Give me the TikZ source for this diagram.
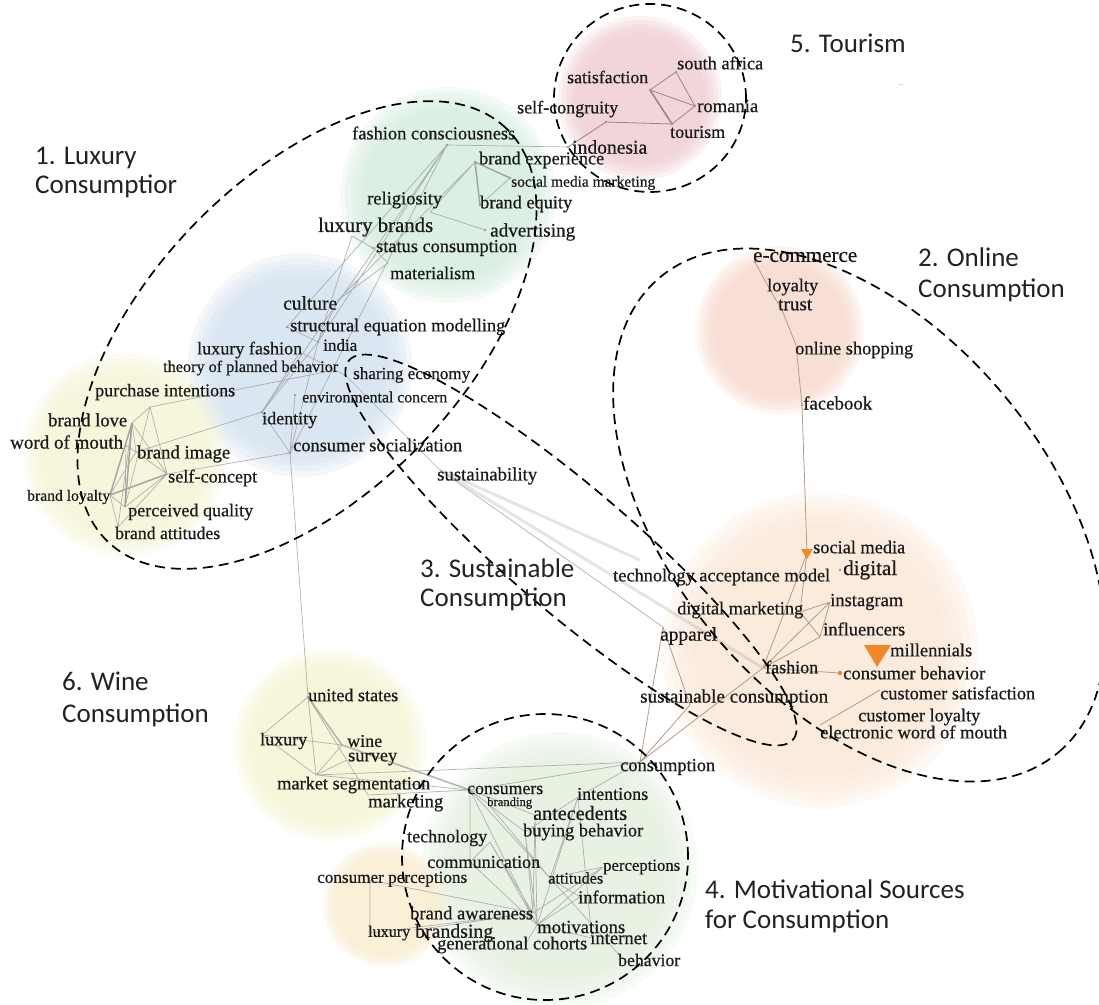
\documentclass[tikz,border=0pt]{standalone}
\usepackage{fontspec}
\setmainfont{Liberation Serif}
\newfontfamily\wfont[FakeBold=0.6]{Liberation Serif}
\newfontfamily\lblfont{Carlito}
\usepackage{graphicx}
\definecolor{txt}{HTML}{1A1A1A}
\definecolor{lab}{HTML}{222222}
\definecolor{cpink}{HTML}{EFC9D1}
\definecolor{cmint}{HTML}{D2EBDD}
\definecolor{cblue}{HTML}{D0E0EE}
\definecolor{cyel}{HTML}{F5F5D2}
\definecolor{csal}{HTML}{F8D6C9}
\definecolor{cpeach}{HTML}{FBE6D3}
\definecolor{cwine}{HTML}{F4F4CF}
\definecolor{cgreen}{HTML}{E1EFDB}
\definecolor{corg}{HTML}{FAEBCB}
\definecolor{orng}{HTML}{F0882A}
\definecolor{edg}{HTML}{9A9A9A}
\definecolor{edt}{HTML}{A57F88}
\definecolor{edo}{HTML}{B49A88}
\tikzset{
  wrd/.style={inner sep=0pt, font=\wfont\fontsize{18}{18}\selectfont, text=txt},
  clab/.style={inner sep=0pt, font=\lblfont\fontsize{27}{30}\selectfont, text=lab, anchor=base west},
  e/.style={draw=edg, line width=0.7pt, draw opacity=0.75},
  eth/.style={draw=edg, line width=1.6pt, draw opacity=0.7},
  elt/.style={draw=edg, line width=3pt, draw opacity=0.25},
  et/.style={draw=edt, line width=0.8pt},
  eo/.style={draw=edo, line width=0.8pt},
  dsh/.style={draw=black, line width=1.7pt, dash pattern=on 10pt off 6pt},
}
\newcommand{\wl}[5]{\node[wrd, anchor=west] (#1) at (#2,#3) {\resizebox{#4pt}{!}{#5}};}
\newcommand{\blob}[4]{\foreach \k in {0,...,4} {\fill[#4, fill opacity=0.24] (#1,#2) circle[radius={(0.80+0.05*\k)*#3pt}];}}
\begin{document}
\begin{tikzpicture}[x=1pt,y=-1pt]
\useasboundingbox (0,0) rectangle (1099,1004);
\fill[white] (0,0) rectangle (1099,1004);
% ---------- blobs
\blob{640}{98}{82}{cpink}
\blob{448}{195}{108}{cmint}
\blob{300}{365}{112}{cblue}
\blob{125}{455}{102}{cyel}
\blob{780}{330}{84}{csal}
\blob{820}{650}{158}{cpeach}
\blob{330}{745}{96}{cwine}
\blob{560}{870}{138}{cgreen}
\blob{385}{905}{62}{corg}
% ---------- coordinates
\coordinate (sat) at (650,90);
\coordinate (saf) at (676,72);
\coordinate (scg) at (606,122);
\coordinate (rom) at (695,106);
\coordinate (tou) at (672,124);
\coordinate (ind) at (568,147);
\coordinate (fc) at (447,145);
\coordinate (bex) at (475,162);
\coordinate (smm) at (510,178);
\coordinate (rel) at (430,212);
\coordinate (beq) at (480,205);
\coordinate (lbr) at (352,236);
\coordinate (adv) at (485,230);
\coordinate (stc) at (373,248);
\coordinate (mat) at (388,263);
\coordinate (cul) at (338,300);
\coordinate (sem) at (287,327);
\coordinate (ina) at (318,342);
\coordinate (lfa) at (300,352);
\coordinate (tpb) at (335,370);
\coordinate (she) at (345,375);
\coordinate (pin) at (150,407);
\coordinate (env) at (295,395);
\coordinate (idt) at (262,412);
\coordinate (cso) at (290,453);
\coordinate (sus) at (440,470);
\coordinate (blv) at (132,423);
\coordinate (wom) at (126,445);
\coordinate (bim) at (136,452);
\coordinate (scp) at (167,474);
\coordinate (bly) at (110,495);
\coordinate (pqu) at (125,507);
\coordinate (bat) at (118,527);
\coordinate (ecm) at (755,262);
\coordinate (loy) at (770,290);
\coordinate (tru) at (782,310);
\coordinate (osh) at (796,345);
\coordinate (fbk) at (802,405);
\coordinate (smd) at (807,553);
\coordinate (dgt) at (840,570);
\coordinate (tam) at (640,560);
\coordinate (dmk) at (800,612);
\coordinate (ins) at (830,602);
\coordinate (inf) at (820,637);
\coordinate (app) at (663,627);
\coordinate (mil) at (878,652);
\coordinate (fas) at (763,668);
\coordinate (cbh) at (840,673);
\coordinate (csa) at (880,690);
\coordinate (sco) at (690,705);
\coordinate (clo) at (858,717);
\coordinate (ewm) at (820,725);
\coordinate (cns) at (640,762);
\coordinate (ust) at (308,697);
\coordinate (lux) at (262,735);
\coordinate (win) at (342,745);
\coordinate (sur) at (347,760);
\coordinate (mse) at (316,775);
\coordinate (mkt) at (368,795);
\coordinate (csm) at (470,790);
\coordinate (itn) at (578,797);
\coordinate (brn) at (490,806);
\coordinate (ant) at (535,815);
\coordinate (tec) at (490,842);
\coordinate (bbh) at (525,832);
\coordinate (com) at (470,862);
\coordinate (per) at (603,867);
\coordinate (cpe) at (370,880);
\coordinate (att) at (550,878);
\coordinate (ifo) at (580,897);
\coordinate (baw) at (533,913);
\coordinate (mot) at (537,925);
\coordinate (lxb) at (370,933);
\coordinate (brs) at (415,930);
\coordinate (itt) at (592,938);
\coordinate (gco) at (525,945);
\coordinate (beh) at (622,958);
% ---------- edges
\draw[et] (sat)--(saf) (sat)--(rom) (saf)--(rom) (rom)--(tou) (scg)--(tou) (scg)--(ind);
\draw[et, line width=1.6pt] (sat)--(tou);
\draw[e] (ind)--(fc);
\draw[e] (fc)--(cso) (fc)--(idt) (fc)--(ina) (fc)--(sem) (bex)--(cul) (bex)--(beq) (bex)--(smm) (beq)--(smm) (rel)--(bex) (lbr)--(stc) (stc)--(mat) (mat)--(cul) (lbr)--(ina) (adv)--(rel);
\draw[eth] (bex)--(beq) (bex)--(smm);
\draw[e] (cul)--(ina) (sem)--(ina) (ina)--(idt) (lfa)--(tpb) (tpb)--(she) (she)--(sus) (idt)--(cso) (env)--(cso) (idt)--(bim) (scp)--(cso) (tpb)--(pin) (cso)--(ust) (idt)--(lfa) (ina)--(cso);
\draw[e] (blv)--(pin) (blv)--(scp) (blv)--(bly) (blv)--(pqu) (blv)--(bim) (pin)--(scp) (pin)--(pqu) (bim)--(scp) (bim)--(bly) (scp)--(bly) (scp)--(pqu) (bly)--(pqu) (bat)--(blv) (bat)--(scp) (wom)--(scp) (wom)--(pqu) (bat)--(bly);
\draw[eth] (blv)--(bly) (blv)--(pqu) (scp)--(bly);
\draw[eo] (ecm)--(loy) (loy)--(tru) (tru)--(osh) (osh)--(fbk) (fbk)--(smd);
\draw[eo] (smd)--(fas) (smd)--(dmk) (dmk)--(ins) (ins)--(inf) (dmk)--(inf) (fas)--(ins) (fas)--(inf) (fas)--(cbh) (app)--(sco) (csa)--(ewm) (app)--(cns) (fas)--(cns) (sco)--(cns);
\draw[e] (sus)--(app);
\draw[elt] (sus)--(tam) (sus)--(fas);
\draw[e] (ust)--(lux) (ust)--(mse) (ust)--(mkt) (lux)--(win) (win)--(mse) (sur)--(mse) (mse)--(csm) (mkt)--(csm) (mse)--(cns) (lux)--(mse);
\draw[eth] (ust)--(win) (win)--(csm);
\draw[e] (csm)--(bbh) (csm)--(att) (csm)--(mot) (csm)--(com) (itn)--(bbh) (itn)--(att) (itn)--(mot) (ant)--(baw) (ant)--(mot) (tec)--(baw) (tec)--(com) (bbh)--(mot) (bbh)--(baw) (com)--(mot) (att)--(per) (att)--(ifo) (baw)--(per) (mot)--(ifo) (mot)--(itt) (per)--(mot) (cpe)--(baw) (lxb)--(cpe) (lxb)--(baw) (brs)--(baw) (gco)--(mot) (beh)--(att) (cns)--(csm) (cns)--(itn) (csm)--(ant) (brn)--(att) (tec)--(mot) (itt)--(itn);
% dots
\foreach \c in {sat,saf,scg,rom,tou,ind,fc,bex,smm,beq,adv,stc,sem,ina,she,env,idt,cso,ecm,fbk,dgt,cbh,ust,csm}
  \fill[edg] (\c) circle[radius=1.4pt];
% orange markers
\fill[orng] (801,549)--(813,549)--(807,559)--cycle;
\fill[orng] (864,645)--(891,645)--(877,667)--cycle;
\fill[orng] (840,673) circle[radius=2.2pt];
% ---------- words: tourism
\wl{tSat}{567}{77}{81}{satisfaction}
\wl{tSaf}{677}{63}{86}{south africa}
\wl{tScg}{517}{109}{101}{self-congruity}
\wl{tRom}{697}{106}{61}{romania}
\wl{tTou}{670}{132}{55}{tourism}
\wl{tInd}{572}{147}{75}{indonesia}
% mint
\wl{tFc}{352}{133}{163}{fashion consciousness}
\wl{tBex}{479}{160}{125}{brand experience}
\wl{tSmm}{511}{183}{144}{social media marketing}
\wl{tRel}{367}{200}{75}{religiosity}
\wl{tBeq}{480}{204}{92}{brand equity}
\wl{tLbr}{318}{227}{115}{luxury brands}
\wl{tAdv}{490}{232}{85}{advertising}
\wl{tStc}{376}{248}{141}{status consumption}
\wl{tMat}{390}{273}{85}{materialism}
% blue
\wl{tCul}{283}{303}{54}{culture}
\wl{tSem}{290}{327}{215}{structural equation modelling}
\wl{tIna}{323}{345}{34}{india}
\wl{tLfa}{197}{350}{105}{luxury fashion}
\wl{tTpb}{163}{368}{175}{theory of planned behavior}
\wl{tShe}{353}{375}{117}{sharing economy}
\wl{tPin}{95}{392}{140}{purchase intentions}
\wl{tEnv}{302}{397}{145}{environmental concern}
\wl{tIdt}{262}{420}{55}{identity}
\wl{tCso}{293}{445}{169}{consumer socialization}
\wl{tSus}{437}{476}{100}{sustainability}
% left
\wl{tBlv}{48}{420}{79}{brand love}
\wl{tWom}{10}{442}{113}{word of mouth}
\wl{tBim}{137}{454}{93}{brand image}
\wl{tScp}{168}{478}{89}{self-concept}
\wl{tBly}{27}{497}{83}{brand loyalty}
\wl{tPqu}{128}{512}{125}{perceived quality}
\wl{tBat}{115}{533}{105}{brand attitudes}
% online
\wl{tEcm}{753}{257}{104}{e-commerce}
\wl{tLoy}{767}{287}{51}{loyalty}
\wl{tTru}{778}{305}{34}{trust}
\wl{tOsh}{795}{350}{118}{online shopping}
\wl{tFbk}{803}{403}{69}{facebook}
% peach
\wl{tSmd}{813}{547}{92}{social media}
\wl{tDgt}{843}{570}{54}{digital}
\wl{tTam}{613}{577}{217}{technology acceptance model}
\wl{tIns}{830}{602}{73}{instagram}
\wl{tDmk}{677}{610}{126}{digital marketing}
\wl{tInf}{823}{629}{82}{influencers}
\wl{tApp}{660}{636}{57}{apparel}
\wl{tMil}{890}{650}{82}{millennials}
\wl{tFas}{765}{667}{53}{fashion}
\wl{tCbh}{843}{673}{142}{consumer behavior}
\wl{tCsa}{880}{693}{155}{customer satisfaction}
\wl{tSco}{640}{698}{188}{sustainable consumption}
\wl{tClo}{858}{717}{122}{customer loyalty}
\wl{tEwm}{820}{732}{187}{electronic word of mouth}
\wl{tCns}{620}{767}{95}{consumption}
% wine
\wl{tUst}{308}{695}{90}{united states}
\wl{tLux}{260}{741}{47}{luxury}
\wl{tWin}{347}{741}{35}{wine}
\wl{tSur}{348}{759}{49}{survey}
\wl{tMse}{277}{785}{153}{market segmentation}
\wl{tMkt}{368}{803}{75}{marketing}
% motivational
\wl{tCsm}{467}{790}{76}{consumers}
\wl{tItn}{577}{794}{71}{intentions}
\wl{tBrn}{487}{803}{45}{branding}
\wl{tAnt}{533}{813}{94}{antecedents}
\wl{tTec}{407}{838}{80}{technology}
\wl{tBbh}{523}{832}{120}{buying behavior}
\wl{tCom}{427}{862}{113}{communication}
\wl{tPer}{603}{867}{77}{perceptions}
\wl{tCpe}{317}{879}{150}{consumer perceptions}
\wl{tAtt}{548}{878}{55}{attitudes}
\wl{tIfo}{578}{897}{87}{information}
\wl{tBaw}{410}{913}{123}{brand awareness}
\wl{tMot}{537}{927}{88}{motivations}
\wl{tLxb}{368}{933}{42}{luxury}
\wl{tBrs}{415}{933}{78}{brandsing}
\wl{tItt}{590}{938}{57}{internet}
\wl{tGco}{437}{945}{150}{generational cohorts}
\wl{tBeh}{618}{960}{62}{behavior}
% ---------- dashed cluster outlines
\draw[dsh, rotate around={46:(307,335)}] (307,335) ellipse[x radius=287pt, y radius=158pt];
\draw[dsh, rotate around={-50:(859,515)}] (859,515) ellipse[x radius=310pt, y radius=188pt];
\draw[dsh, rotate around={-40.5:(571,550)}] (571,550) ellipse[x radius=292pt, y radius=62pt];
\draw[dsh] (650,98) ellipse[x radius=96pt, y radius=94pt];
\draw[dsh] (545,857) circle[radius=143pt];
% ---------- cluster labels
\node[clab] (l5) at (790,52) {5. Tourism};
\node[inner sep=0pt, font=\fontsize{9}{9}\selectfont, text=gray] (dd) at (901,85) {..};
\node[clab] (l1a) at (35,164) {1. Luxury};
\node[clab] (l1b) at (35,193) {Consumptior};
\node[clab] (l2a) at (918,266) {2. Online};
\node[clab] (l2b) at (918,297) {Consumption};
\node[clab] (l3a) at (420,577) {3. Sustainable};
\node[clab] (l3b) at (420,606) {Consumption};
\node[clab] (l6a) at (62,690) {6. Wine};
\node[clab] (l6b) at (62,722) {Consumption};
\node[clab] (l4a) at (705,898) {4. Motivational Sources};
\node[clab] (l4b) at (705,928) {for Consumption};
\end{tikzpicture}
\end{document}
